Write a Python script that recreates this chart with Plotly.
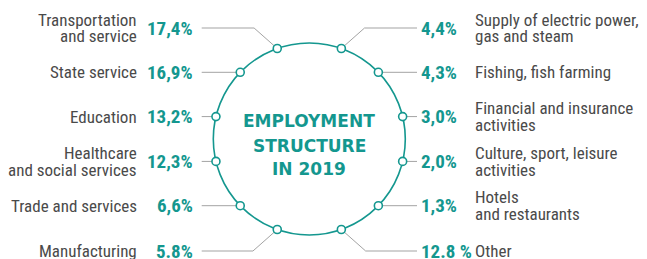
import math
import plotly.graph_objects as go

# ---- data ----
left_categories = ["Transportation<br>and service", "State service", "Education",
                   "Healthcare<br>and social services", "Trade and services", "Manufacturing"]
left_values = ["17,4%", "16,9%", "13,2%", "12,3%", "6,6%", "5.8%"]
right_categories = ["Supply of electric power,<br>gas and steam", "Fishing, fish farming",
                    "Financial and insurance<br>activities", "Culture, sport, leisure<br>activities",
                    "Hotels<br>and restaurants", "Other"]
right_values = ["4,4%", "4,3%", "3,0%", "2,0%", "1,3%", "12.8 %"]
center_title = ["EMPLOYMENT", "STRUCTURE", "IN 2019"]

# ---- layout / style ----
W, H = 647, 259
TEAL = "#14978f"
GRAY_TXT = "#4a4a4a"
GRAY_LINE = "#a3a3a3"
CX, CY, R = 309.3, 139.0, 96.0
angles = [19.5, 46, 76.5, 103.5, 134, 160.5]      # degrees from top
slot_y = [28, 72, 117, 162, 207, 251]
LABEL_FONT = "Liberation Sans Narrow, Roboto Condensed, Arial Narrow, Roboto, sans-serif"

fig = go.Figure()
fig.add_shape(type="circle", xref="x", yref="y", x0=CX - R, x1=CX + R, y0=CY - R, y1=CY + R,
              line=dict(color=TEAL, width=1.6), layer="below")

annotations = []
mx, my = [], []
for side, cats, vals in ((-1, left_categories, left_values), (1, right_categories, right_values)):
    for i, (cat, val) in enumerate(zip(cats, vals)):
        a = math.radians(angles[i])
        px = CX + side * R * math.sin(a)
        py = CY - R * math.cos(a)
        ly = slot_y[i]
        end_x = 201.7 if side < 0 else 417.0
        xs, ys = [px], [py]
        if abs(py - ly) > 3:
            xs.append(px + side * abs(py - ly) * 1.13)
            ys.append(ly)
        else:
            ly = py
        xs.append(end_x)
        ys.append(ly)
        fig.add_trace(go.Scatter(x=xs, y=ys, mode="lines", line=dict(color=GRAY_LINE, width=1),
                                 hoverinfo="skip", showlegend=False))
        mx.append(px)
        my.append(py)
        # value
        annotations.append(dict(x=195 if side < 0 else 419, y=ly, xref="x", yref="y",
                                text="<b>%s</b>" % val, showarrow=False,
                                xanchor="right" if side < 0 else "left", yanchor="middle",
                                font=dict(family=LABEL_FONT, size=19, color=TEAL)))
        # category (lines placed individually for tight leading)
        lines = cat.split("<br>")
        n = len(lines)
        for k, t in enumerate(lines):
            yy = ly + (k - (n - 1) / 2) * 16.5
            annotations.append(dict(x=139 if side < 0 else 473, y=yy, xref="x", yref="y",
                                    text=t, showarrow=False,
                                    xanchor="right" if side < 0 else "left", yanchor="middle",
                                    font=dict(family=LABEL_FONT, size=17, color=GRAY_TXT)))

fig.add_trace(go.Scatter(x=mx, y=my, mode="markers",
                         marker=dict(size=8, color="white", line=dict(color=TEAL, width=1.6)),
                         hoverinfo="skip", showlegend=False))

for k, t in enumerate(center_title):
    annotations.append(dict(x=CX, y=[121, 145.5, 169][k], xref="x", yref="y", text="<b>%s</b>" % t,
                            showarrow=False, xanchor="center", yanchor="middle",
                            font=dict(family="DejaVu Sans", size=17, color=TEAL)))

fig.update_layout(
    width=W, height=H, margin=dict(l=0, r=0, t=0, b=0),
    paper_bgcolor="white", plot_bgcolor="white",
    xaxis=dict(range=[0, W], visible=False, fixedrange=True),
    yaxis=dict(range=[H, 0], visible=False, fixedrange=True),
    annotations=annotations, showlegend=False,
)
fig.write_html("out.html", config={"displayModeBar": False},
               post_script="document.body.style.margin='0';document.body.style.overflow='hidden';")
